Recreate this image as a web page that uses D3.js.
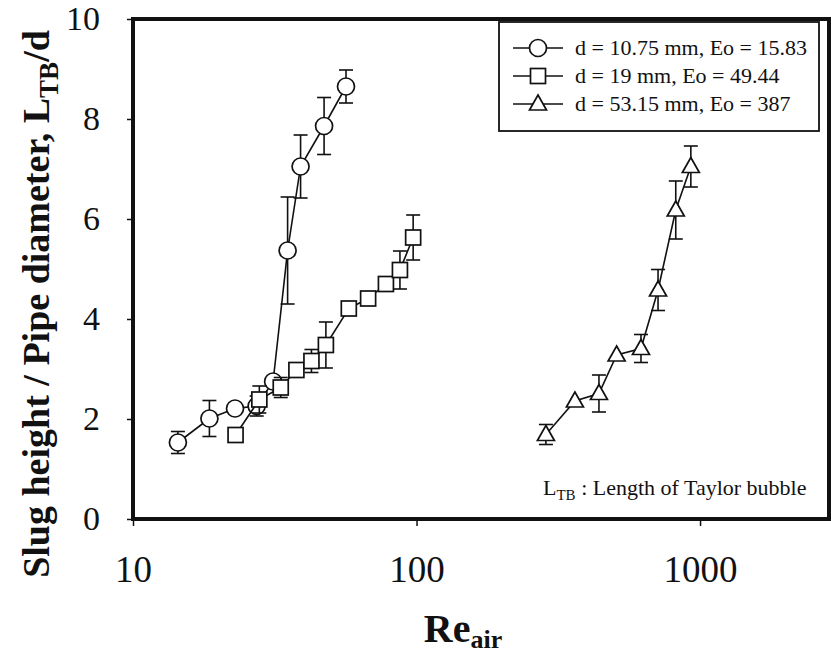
<!DOCTYPE html>
<html>
<head>
<meta charset="utf-8">
<script src="https://cdn.jsdelivr.net/npm/d3@7"></script>
<style>
  body { margin: 0; background: #fff; }
  svg { display: block; }
  svg text { font-family: 'Liberation Serif', 'DejaVu Serif', serif !important; fill: #111; }
</style>
</head>
<body>
<svg id="chart" width="831" height="662"></svg>
<script>
// Re_air, L_TB/d and error (+/-) for each pipe
const reSmall = [14.4, 18.6, 22.9, 27.3, 31.2, 35.1, 39.0, 47.2, 56.4];
const ltbSmall = [1.53, 2.01, 2.21, 2.26, 2.75, 5.37, 7.05, 7.86, 8.65];
const errSmall = [0.22, 0.36, 0, 0.2, 0, 1.07, 0.63, 0.57, 0.33];

const reMid = [23.0, 27.9, 33.2, 37.7, 42.6, 47.9, 57.7, 67.5, 78.0, 87.4, 97.3];
const ltbMid = [1.68, 2.39, 2.63, 2.98, 3.16, 3.48, 4.21, 4.41, 4.70, 4.98, 5.63];
const errMid = [0, 0.27, 0.2, 0, 0.23, 0.46, 0, 0, 0, 0.38, 0.45];

const reLarge = [286, 362, 440, 508, 619, 711, 821, 928];
const ltbLarge = [1.69, 2.36, 2.51, 3.28, 3.41, 4.58, 6.18, 7.05];
const errLarge = [0.2, 0, 0.37, 0, 0.28, 0.41, 0.58, 0.41];

const seriesNames = ["d = 10.75 mm, Eo = 15.83", "d = 19 mm, Eo = 49.44", "d = 53.15 mm, Eo = 387"];
const xTicks = [10, 100, 1000];
const yTicks = [0, 2, 4, 6, 8, 10];

const series = [
    {name: seriesNames[0], shape: "circle", re: reSmall, ltb: ltbSmall, err: errSmall},
    {name: seriesNames[1], shape: "square", re: reMid, ltb: ltbMid, err: errMid},
    {name: seriesNames[2], shape: "triangle", re: reLarge, ltb: ltbLarge, err: errLarge}
];

const FONT = "'Liberation Serif', 'DejaVu Serif', serif";
const svg = d3.select('#chart').attr('font-family', FONT);

const x = d3.scaleLog().domain([10, 2850]).range([133, 829]);
const y = d3.scaleLinear().domain([0, 10]).range([519, 19]);

// axes
const yAxis = svg.append('g')
    .attr('transform', 'translate(133,0)')
    .call(d3.axisLeft(y).tickValues(yTicks).tickSize(6).tickPadding(27).tickFormat(d3.format('d')));
yAxis.attr('font-family', FONT);
yAxis.select('.domain').remove();
yAxis.selectAll('line').attr('stroke', '#111').attr('stroke-width', 1.5);
yAxis.selectAll('text').style('font-size', '34px').attr('fill', '#111');

const xAxis = svg.append('g')
    .attr('transform', 'translate(0,519)')
    .call(d3.axisBottom(x).tickValues(xTicks).tickSize(7).tickPadding(30).tickFormat(d3.format('d')));
xAxis.attr('font-family', FONT);
xAxis.select('.domain').remove();
xAxis.selectAll('line').attr('stroke', '#111').attr('stroke-width', 1.5);
xAxis.selectAll('text').style('font-size', '37px').attr('fill', '#111');

// frame
svg.append('rect')
    .attr('x', 133).attr('y', 19)
    .attr('width', 829 - 133).attr('height', 519 - 19)
    .attr('fill', 'none').attr('stroke', '#111').attr('stroke-width', 4);

function marker(g, shape, cx, cy) {
    if (shape === 'circle') {
        g.append('circle').attr('cx', cx).attr('cy', cy).attr('r', 8.5)
            .attr('fill', '#fff').attr('stroke', '#111').attr('stroke-width', 1.7);
    } else if (shape === 'square') {
        g.append('rect').attr('x', cx - 7.5).attr('y', cy - 7.5).attr('width', 15).attr('height', 15)
            .attr('fill', '#fff').attr('stroke', '#111').attr('stroke-width', 1.7);
    } else {
        g.append('path').attr('d', `M${cx},${cy - 9}L${cx + 8.5},${cy + 6}L${cx - 8.5},${cy + 6}Z`)
            .attr('fill', '#fff').attr('stroke', '#111').attr('stroke-width', 1.7);
    }
}

const line = d3.line().x(d => x(d[0])).y(d => y(d[1]));

series.forEach(s => {
    const pts = s.re.map((r, i) => [r, s.ltb[i], s.err[i]]);
    const g = svg.append('g');
    g.append('path').datum(pts)
        .attr('fill', 'none').attr('stroke', '#111').attr('stroke-width', 1.6)
        .attr('d', line);
    pts.filter(p => p[2] > 0).forEach(p => {
        const cx = x(p[0]);
        const y0 = y(p[1] - p[2]), y1 = y(p[1] + p[2]);
        g.append('line').attr('x1', cx).attr('x2', cx).attr('y1', y0).attr('y2', y1)
            .attr('stroke', '#111').attr('stroke-width', 1.6);
        [y0, y1].forEach(yy => g.append('line')
            .attr('x1', cx - 7).attr('x2', cx + 7).attr('y1', yy).attr('y2', yy)
            .attr('stroke', '#111').attr('stroke-width', 1.6));
    });
    pts.forEach(p => marker(g, s.shape, x(p[0]), y(p[1])));
});

// legend
const lg = svg.append('g');
lg.append('rect').attr('x', 499).attr('y', 22).attr('width', 320).attr('height', 109)
    .attr('fill', '#fff').attr('stroke', '#111').attr('stroke-width', 1.8);
series.forEach((s, i) => {
    const ly = 48 + i * 28;
    lg.append('line').attr('x1', 513).attr('x2', 563).attr('y1', ly).attr('y2', ly)
        .attr('stroke', '#111').attr('stroke-width', 1.5);
    marker(lg, s.shape, 538, ly);
    lg.append('text').attr('x', 575).attr('y', ly + 7).style('font-size', '22px').text(s.name);
});

// note
const note = svg.append('text').attr('x', 543).attr('y', 495).style('font-size', '22px');
note.append('tspan').text('L');
note.append('tspan').attr('dy', 5).style('font-size', '15px').text('TB');
note.append('tspan').attr('dy', -5).text(' : Length of Taylor bubble');

// axis titles
const yl = svg.append('text')
    .attr('transform', 'translate(49,304) rotate(-90)')
    .attr('text-anchor', 'middle')
    .style('font-size', '38px').style('font-weight', 'bold');
yl.append('tspan').text('Slug height / Pipe diameter, L');
yl.append('tspan').attr('dy', 9).style('font-size', '27px').text('TB');
yl.append('tspan').attr('dy', -9).text('/d');

const xl = svg.append('text')
    .attr('x', 463).attr('y', 642)
    .attr('text-anchor', 'middle')
    .style('font-size', '40px').style('font-weight', 'bold');
xl.append('tspan').text('Re');
xl.append('tspan').attr('dy', 6).style('font-size', '26px').text('air');
</script>
</body>
</html>
